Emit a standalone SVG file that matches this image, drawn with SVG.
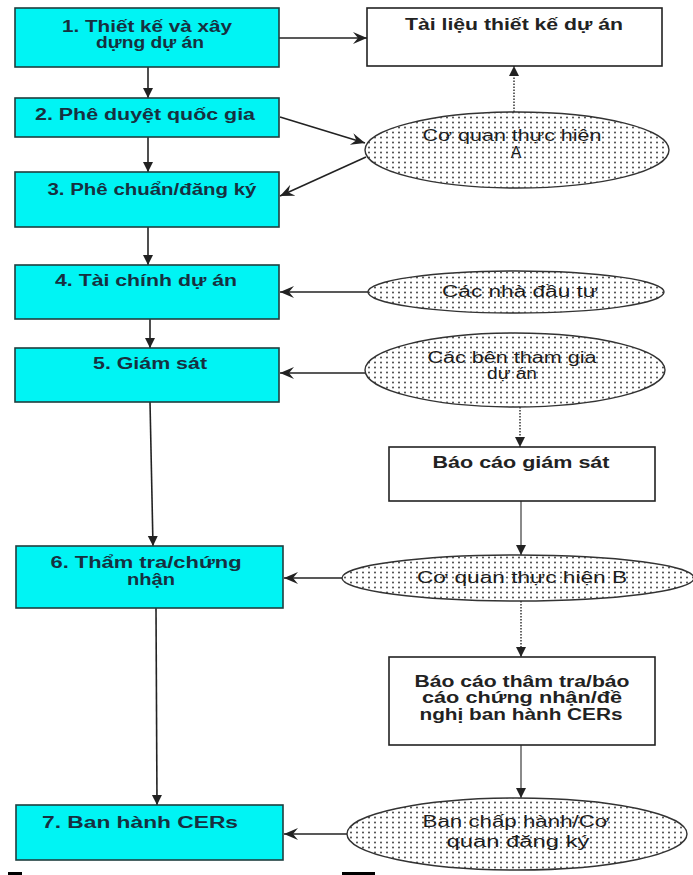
<svg xmlns="http://www.w3.org/2000/svg" width="693" height="875" viewBox="0 0 693 875">
<defs>
<style>
.box{fill:#00F4F4;stroke:#1f3f3f;stroke-width:1.6}
.doc{fill:#ffffff;stroke:#222;stroke-width:1.6}
.ell{fill:url(#dots);stroke:#333;stroke-width:1.4}
.bt{font-family:"Liberation Sans",Arial,sans-serif;font-size:16px;font-weight:bold;fill:#173040;text-anchor:middle}
.dt{font-family:"Liberation Sans",Arial,sans-serif;font-size:16px;font-weight:bold;fill:#222;text-anchor:middle}
.et{font-family:"Liberation Sans",Arial,sans-serif;font-size:16px;fill:#1e1e1e;text-anchor:middle}
.c{fill:none;stroke:#222;stroke-width:1.6}
.cg{fill:none;stroke:#8a8a8a;stroke-width:2}
.cd{fill:none;stroke:#666;stroke-width:2;stroke-dasharray:1.5 1.5}
</style>
<pattern id="dots" patternUnits="userSpaceOnUse" width="6" height="5">
<rect width="6" height="5" fill="#fff"/>
<circle cx="3" cy="2.5" r="0.9" fill="#333"/>
</pattern>
<marker id="tri" markerUnits="userSpaceOnUse" markerWidth="12" markerHeight="12" refX="10" refY="5" orient="auto">
<path d="M0,0 L10,5 L0,10 z" fill="#222"/>
</marker>
<marker id="barb" markerUnits="userSpaceOnUse" markerWidth="16" markerHeight="14" refX="14" refY="6" orient="auto">
<path d="M0,0 L14,6 L0,12 L5,6 z" fill="#222"/>
</marker>
</defs>
<rect width="693" height="875" fill="#ffffff"/>

<g id="connectors">
<line class="c" x1="148" y1="67" x2="148" y2="98" marker-end="url(#tri)"/>
<line class="c" x1="148" y1="137" x2="148" y2="172" marker-end="url(#tri)"/>
<line class="c" x1="148" y1="227" x2="148" y2="265" marker-end="url(#tri)"/>
<line class="c" x1="150" y1="319" x2="150" y2="348" marker-end="url(#tri)"/>
<line class="c" x1="150" y1="402" x2="153" y2="546" marker-end="url(#tri)"/>
<line class="c" x1="156" y1="608" x2="157" y2="805" marker-end="url(#tri)"/>
<line class="c" x1="279" y1="38" x2="367" y2="38" marker-end="url(#barb)"/>
<line class="c" x1="280" y1="117" x2="365" y2="143" marker-end="url(#barb)"/>
<line class="c" x1="366" y1="157" x2="280" y2="196" marker-end="url(#barb)"/>
<line class="cd" x1="514" y1="112" x2="514" y2="66" marker-end="url(#tri)"/>
<line class="c" x1="368" y1="292" x2="280" y2="292" marker-end="url(#barb)"/>
<line class="c" x1="365" y1="373" x2="280" y2="373" marker-end="url(#barb)"/>
<line class="cd" x1="520" y1="407" x2="520" y2="447" marker-end="url(#tri)"/>
<line class="cg" x1="521" y1="501" x2="521" y2="555" marker-end="url(#tri)"/>
<line class="c" x1="342" y1="578" x2="284" y2="578" marker-end="url(#barb)"/>
<line class="cd" x1="521" y1="601" x2="521" y2="657" marker-end="url(#tri)"/>
<line class="cg" x1="521" y1="745" x2="521" y2="798" marker-end="url(#tri)"/>
<line class="c" x1="347" y1="834" x2="284" y2="834" marker-end="url(#barb)"/>
</g>

<g id="step1">
<rect class="box" x="15" y="8" width="264" height="59"/>
<text class="bt" x="147" y="32" textLength="170" lengthAdjust="spacingAndGlyphs">1. Thiết kế và xây</text>
<text class="bt" x="150" y="48" textLength="108" lengthAdjust="spacingAndGlyphs">dựng dự án</text>
</g>
<g id="step2">
<rect class="box" x="15" y="98" width="264" height="39"/>
<text class="bt" x="145" y="120" textLength="220" lengthAdjust="spacingAndGlyphs">2. Phê duyệt quốc gia</text>
</g>
<g id="step3">
<rect class="box" x="15" y="172" width="264" height="55"/>
<text class="bt" x="152" y="195" textLength="209" lengthAdjust="spacingAndGlyphs">3. Phê chuẩn/đăng ký</text>
</g>
<g id="step4">
<rect class="box" x="15" y="265" width="264" height="54"/>
<text class="bt" x="146" y="286" textLength="182" lengthAdjust="spacingAndGlyphs">4. Tài chính dự án</text>
</g>
<g id="step5">
<rect class="box" x="15" y="348" width="264" height="54"/>
<text class="bt" x="150" y="369" textLength="114" lengthAdjust="spacingAndGlyphs">5. Giám sát</text>
</g>
<g id="step6">
<rect class="box" x="16" y="546" width="267" height="62"/>
<text class="bt" x="146" y="568" textLength="191" lengthAdjust="spacingAndGlyphs">6. Thẩm tra/chứng</text>
<text class="bt" x="151" y="585" textLength="48" lengthAdjust="spacingAndGlyphs">nhận</text>
</g>
<g id="step7">
<rect class="box" x="16" y="805" width="267" height="55"/>
<text class="bt" x="140" y="828" textLength="196" lengthAdjust="spacingAndGlyphs">7. Ban hành CERs</text>
</g>

<g id="designDoc">
<rect class="doc" x="367" y="8" width="295" height="58"/>
<text class="dt" x="514" y="30" textLength="218" lengthAdjust="spacingAndGlyphs">Tài liệu thiết kế dự án</text>
</g>
<g id="entityA">
<ellipse class="ell" cx="517" cy="150" rx="152" ry="38"/>
<text class="et" x="512" y="141" textLength="179" lengthAdjust="spacingAndGlyphs">Cơ quan thực hiện</text>
<text class="et" x="516" y="158">A</text>
</g>
<g id="investors">
<ellipse class="ell" cx="516" cy="292" rx="148" ry="21"/>
<text class="et" x="520" y="297" textLength="156" lengthAdjust="spacingAndGlyphs">Các nhà đầu tư</text>
</g>
<g id="participants">
<ellipse class="ell" cx="515" cy="370" rx="150" ry="37"/>
<text class="et" x="512" y="363" textLength="169" lengthAdjust="spacingAndGlyphs">Các bên tham gia</text>
<text class="et" x="512" y="379" textLength="50" lengthAdjust="spacingAndGlyphs">dự án</text>
</g>
<g id="monitoringReport">
<rect class="doc" x="389" y="447" width="266" height="54"/>
<text class="dt" x="521" y="468" textLength="177" lengthAdjust="spacingAndGlyphs">Báo cáo giám sát</text>
</g>
<g id="entityB">
<ellipse class="ell" cx="518" cy="578" rx="176" ry="23"/>
<text class="et" x="522" y="583" textLength="210" lengthAdjust="spacingAndGlyphs">Cơ quan thực hiện B</text>
</g>
<g id="verificationReport">
<rect class="doc" x="389" y="657" width="266" height="88"/>
<text class="dt" x="522" y="687" textLength="215" lengthAdjust="spacingAndGlyphs">Báo cáo thâm tra/báo</text>
<text class="dt" x="522" y="703" textLength="200" lengthAdjust="spacingAndGlyphs">cáo chứng nhận/đề</text>
<text class="dt" x="521" y="720" textLength="203" lengthAdjust="spacingAndGlyphs">nghị ban hành CERs</text>
</g>
<g id="executiveBoard">
<ellipse class="ell" cx="517" cy="834" rx="170" ry="36"/>
<text class="et" x="516" y="827" textLength="187" lengthAdjust="spacingAndGlyphs">Ban chấp hành/Cơ</text>
<text class="et" x="518" y="847" textLength="143" lengthAdjust="spacingAndGlyphs">quan đăng ký</text>
</g>

<rect x="8" y="872" width="14" height="3" fill="#000"/>
<rect x="342" y="872" width="33" height="3" fill="#000"/>
</svg>
